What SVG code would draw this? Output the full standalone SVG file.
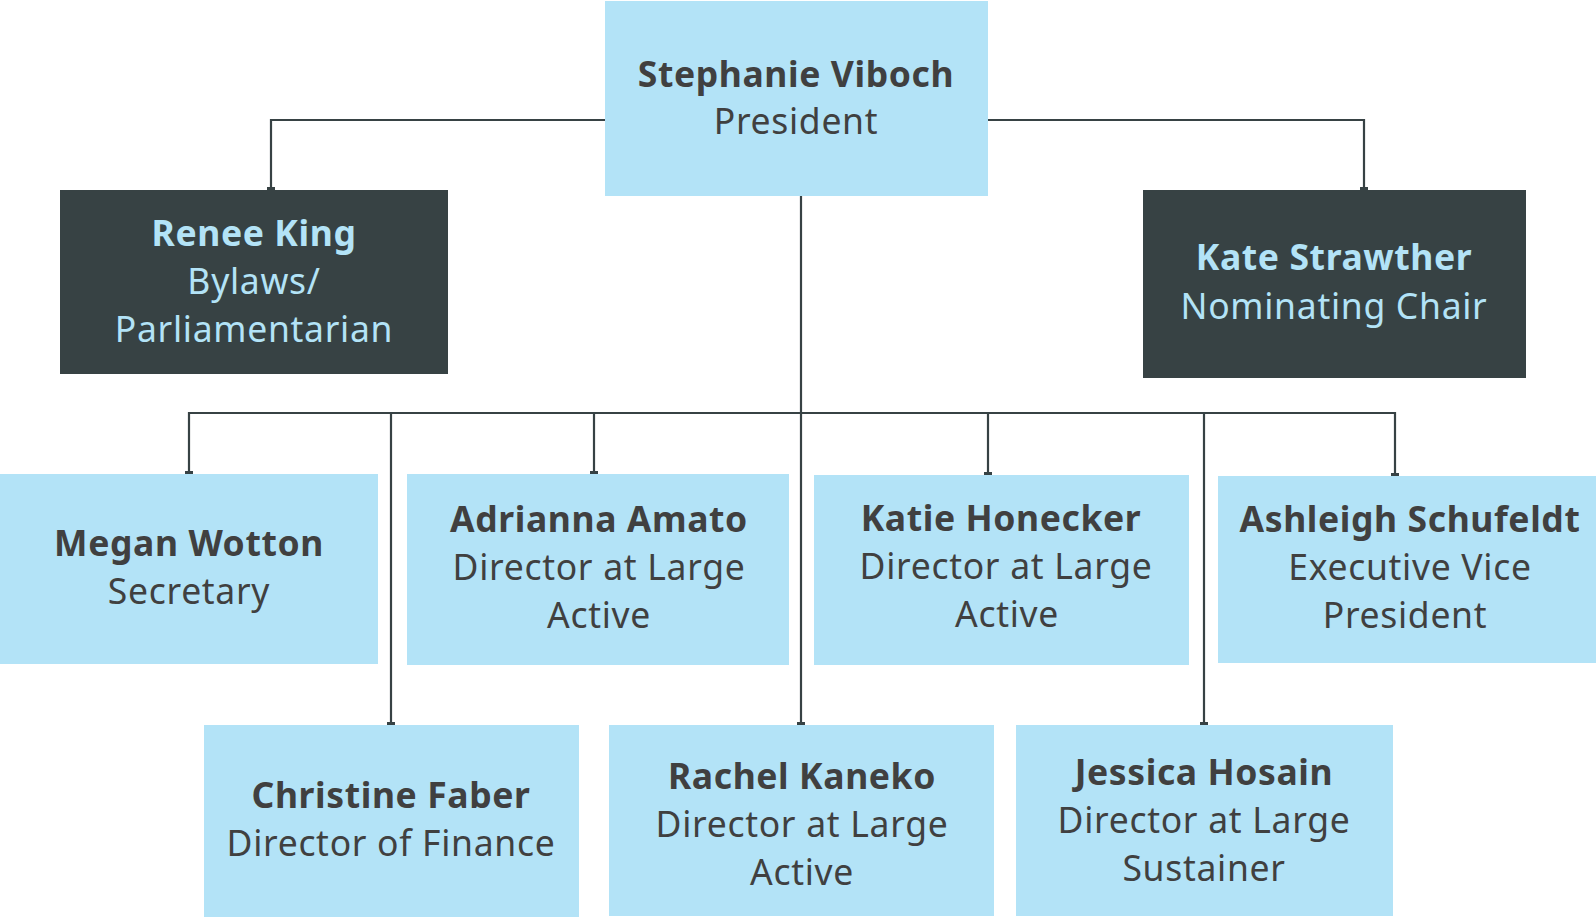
<svg xmlns="http://www.w3.org/2000/svg" width="1596" height="917" viewBox="0 0 1596 917">
<style>
.lb{fill:#b3e3f7}
.dk{fill:#374244}
.c{fill:none;stroke:#374244;stroke-width:2.2}
text{font-family:"Noto Sans","Open Sans",sans-serif;font-size:35.5px;text-anchor:middle;letter-spacing:0.7px}
.n{font-weight:bold;letter-spacing:0.6px}
.t1{fill:#404040}
.t2{fill:#b3e3f7}
</style>
<rect width="1596" height="917" fill="#ffffff"/>
<g id="connectors">
<path class="c" d="M605 120H271V190"/>
<path class="c" d="M988 120H1364V190"/>
<path class="c" d="M801 196V725"/>
<path class="c" d="M189 474V413H1395V476"/>
<path class="c" d="M391 413V725"/>
<path class="c" d="M594 413V474"/>
<path class="c" d="M988 413V475"/>
<path class="c" d="M1204 413V725"/>
<g fill="#374244">
<rect x="267" y="187" width="8" height="3"/>
<rect x="1360" y="187" width="8" height="3"/>
<rect x="185" y="471" width="8" height="3"/>
<rect x="590" y="471" width="8" height="3"/>
<rect x="984" y="472" width="8" height="3"/>
<rect x="1391" y="473" width="8" height="3"/>
<rect x="387" y="722" width="8" height="3"/>
<rect x="797" y="722" width="8" height="3"/>
<rect x="1200" y="722" width="8" height="3"/>
</g>
</g>
<g id="president">
<rect class="lb" x="605" y="1" width="383" height="195"/>
<text class="n t1" x="796" y="87">Stephanie Viboch</text>
<text class="t1" x="796" y="134">President</text>
</g>
<g id="renee">
<rect class="dk" x="60" y="190" width="388" height="184"/>
<text class="n t2" x="254" y="246">Renee King</text>
<text class="t2" x="254" y="294">Bylaws/</text>
<text class="t2" x="254" y="342">Parliamentarian</text>
</g>
<g id="kate">
<rect class="dk" x="1143" y="190" width="383" height="188"/>
<text class="n t2" x="1334" y="270">Kate Strawther</text>
<text class="t2" x="1334" y="319">Nominating Chair</text>
</g>
<g id="megan">
<rect class="lb" x="0" y="474" width="378" height="190"/>
<text class="n t1" x="189" y="556">Megan Wotton</text>
<text class="t1" x="189" y="604">Secretary</text>
</g>
<g id="adrianna">
<rect class="lb" x="407" y="474" width="382" height="191"/>
<text class="n t1" x="599" y="532">Adrianna Amato</text>
<text class="t1" x="599" y="580">Director at Large</text>
<text class="t1" x="599" y="628">Active</text>
</g>
<g id="katie">
<rect class="lb" x="814" y="475" width="375" height="190"/>
<text class="n t1" x="1001" y="531">Katie Honecker</text>
<text class="t1" x="1006" y="579">Director at Large</text>
<text class="t1" x="1007" y="627">Active</text>
</g>
<g id="ashleigh">
<rect class="lb" x="1218" y="476" width="378" height="187"/>
<text class="n t1" x="1410" y="532">Ashleigh Schufeldt</text>
<text class="t1" x="1410" y="580">Executive Vice</text>
<text class="t1" x="1405" y="628">President</text>
</g>
<g id="christine">
<rect class="lb" x="204" y="725" width="375" height="192"/>
<text class="n t1" x="391" y="808">Christine Faber</text>
<text class="t1" x="391" y="856">Director of Finance</text>
</g>
<g id="rachel">
<rect class="lb" x="609" y="725" width="385" height="191"/>
<text class="n t1" x="802" y="789">Rachel Kaneko</text>
<text class="t1" x="802" y="837">Director at Large</text>
<text class="t1" x="802" y="885">Active</text>
</g>
<g id="jessica">
<rect class="lb" x="1016" y="725" width="377" height="191"/>
<text class="n t1" x="1204" y="785">Jessica Hosain</text>
<text class="t1" x="1204" y="833">Director at Large</text>
<text class="t1" x="1204" y="881">Sustainer</text>
</g>
</svg>
